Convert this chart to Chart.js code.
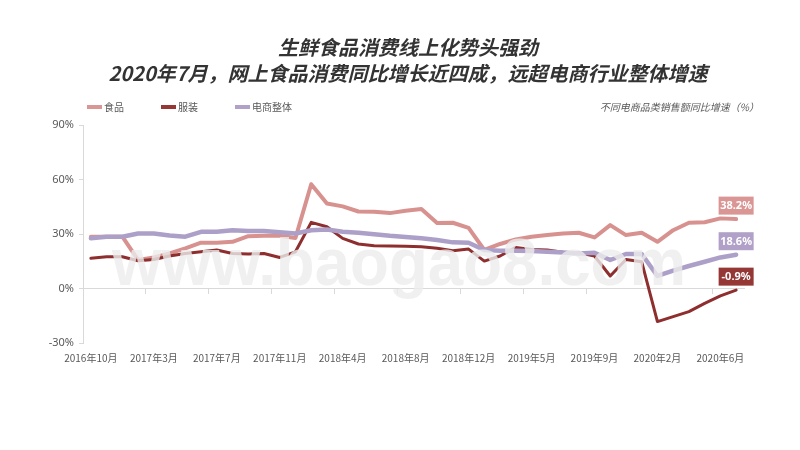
<!DOCTYPE html>
<html>
<head>
<meta charset="utf-8">
<script src="https://cdn.jsdelivr.net/npm/chart.js@4/dist/chart.umd.min.js"></script>
<style>
  html, body { margin: 0; padding: 0; background: #fff; }
  #wrap { position: relative; width: 800px; height: 450px; overflow: hidden; font-family: "Noto Sans CJK SC", "Noto Sans", sans-serif; }
  #c { position: absolute; left: 0; top: 0; }
  .title { position: absolute; top: 34px; left: 8px; width: 800px; text-align: center; font-size: 20px; font-weight: bold; font-style: italic; line-height: 26px; color: #333; white-space: nowrap; }
  .lg { position: absolute; top: 100px; font-size: 10px; line-height: 14px; color: #595959; white-space: nowrap; }
  .sw { position: absolute; top: 105px; width: 15px; height: 4px; }
  .cap { position: absolute; top: 100px; right: 41px; font-size: 10px; line-height: 14px; font-style: italic; color: #595959; white-space: nowrap; }
</style>
</head>
<body>
<div id="wrap">
  <canvas id="c" width="800" height="450"></canvas>
  <div class="title">生鲜食品消费线上化势头强劲<br>2020年7月，网上食品消费同比增长近四成，远超电商行业整体增速</div>
  <div id="legend"></div>
  <div class="cap">不同电商品类销售额同比增速（%）</div>
</div>
<script>
// ---- data ----
const categories = [
  '2016年10月','2016年11月','2016年12月',
  '2017年2月','2017年3月','2017年4月','2017年5月','2017年6月','2017年7月','2017年8月','2017年9月','2017年10月','2017年11月','2017年12月',
  '2018年2月','2018年3月','2018年4月','2018年5月','2018年6月','2018年7月','2018年8月','2018年9月','2018年10月','2018年11月','2018年12月',
  '2019年2月','2019年3月','2019年4月','2019年5月','2019年6月','2019年7月','2019年8月','2019年9月','2019年10月','2019年11月','2019年12月',
  '2020年2月','2020年3月','2020年4月','2020年5月','2020年6月','2020年7月'
];
const xTickLabels = ['2016年10月','2017年3月','2017年7月','2017年11月','2018年4月','2018年8月','2018年12月','2019年5月','2019年9月','2020年2月','2020年6月'];
const yTicks = [-30, 0, 30, 60, 90];
const seriesNames = ['食品', '服装', '电商整体'];
const food = [28.5, 28.5, 28.5, 15.7, 17.1, 19.3, 22.1, 25.2, 25.2, 25.7,
              28.8, 29.0, 29.0, 27.8, 57.4, 46.8, 45.2, 42.4, 42.2, 41.5,
              42.8, 43.7, 36.0, 36.2, 33.4, 21.2, 24.5, 27.0, 28.5, 29.4,
              30.3, 30.7, 28.1, 34.9, 29.4, 30.7, 25.7, 32.1, 36.2, 36.5,
              38.6, 38.2];
const clothing = [16.6, 17.5, 17.5, 15.3, 16.0, 17.9, 19.3, 20.2, 21.2, 19.3,
                  19.0, 19.3, 17.1, 20.2, 36.4, 34.0, 27.6, 24.5, 23.5, 23.4,
                  23.2, 23.0, 22.1, 20.8, 21.7, 15.1, 17.9, 22.6, 21.5, 21.2,
                  20.0, 19.7, 17.9, 6.9, 16.0, 14.7, -18.2, -15.5, -12.7, -8.2,
                  -4.1, -0.9];
const overall = [27.6, 28.5, 28.5, 30.3, 30.3, 29.2, 28.5, 31.2, 31.2, 32.1,
                 31.7, 31.6, 30.9, 30.3, 32.1, 32.5, 31.2, 30.7, 29.9, 29.0,
                 28.3, 27.6, 26.7, 25.4, 25.2, 21.2, 20.8, 20.8, 20.6, 20.2,
                 19.8, 19.3, 19.7, 15.7, 19.0, 19.0, 6.9, 9.8, 12.4, 14.7,
                 17.1, 18.6];

// ---- styles ----
const lineColors = ['#D7928F', '#8E2E2E', '#ADA0C8'];
const boxColors = ['#D99694', '#953735', '#B1A0C7'];
const lineWidths = [4, 3, 4.5];
const gridGray = '#D9D9D9';
const textGray = '#595959';

// legend (HTML)
const legendLeft = [87, 161, 235];
const lg = document.getElementById('legend');
seriesNames.forEach((n, i) => {
  const s = document.createElement('div');
  s.className = 'sw'; s.style.left = legendLeft[i] + 'px'; s.style.background = boxColors[i];
  lg.appendChild(s);
  const t = document.createElement('div');
  t.className = 'lg'; t.style.left = (legendLeft[i] + 17) + 'px'; t.textContent = n;
  lg.appendChild(t);
});

const endLabels = {
  id: 'endLabels',
  afterDatasetsDraw(chart) {
    const ctx = chart.ctx;
    chart.data.datasets.forEach((ds, di) => {
      const meta = chart.getDatasetMeta(di);
      const pt = meta.data[meta.data.length - 1];
      const val = ds.data[ds.data.length - 1];
      const txt = val.toFixed(1) + '%';
      const w = 35, h = 18;
      const cx = pt.x, cy = pt.y - 13.5;
      ctx.save();
      ctx.fillStyle = boxColors[di];
      ctx.fillRect(cx - w / 2, cy - h / 2, w, h);
      ctx.fillStyle = '#fff';
      ctx.font = 'bold 11px "Noto Sans", sans-serif';
      ctx.textAlign = 'center';
      ctx.textBaseline = 'middle';
      ctx.fillText(txt, cx, cy + 0.5);
      ctx.restore();
    });
  }
};

const watermark = {
  id: 'watermark',
  afterDraw(chart) {
    const ctx = chart.ctx;
    ctx.save();
    ctx.font = 'bold 67px "Liberation Sans", Arial, sans-serif';
    const txt = 'www.baogao8.com';
    const mw = ctx.measureText(txt).width;
    ctx.translate(112, 285);
    ctx.scale(574 / mw, 1);
    ctx.fillStyle = 'rgba(236,236,236,0.8)';
    ctx.textBaseline = 'alphabetic';
    ctx.fillText(txt, 0, 0);
    ctx.restore();
  }
};

const series = [food, clothing, overall];
new Chart(document.getElementById('c'), {
  type: 'line',
  data: {
    labels: categories,
    datasets: series.map((d, i) => ({
      label: seriesNames[i],
      data: d,
      borderColor: lineColors[i],
      backgroundColor: lineColors[i],
      borderWidth: lineWidths[i],
      pointRadius: 0,
      tension: 0,
      fill: false,
      borderJoinStyle: 'round',
      borderCapStyle: 'round',
      order: [2, 1, 0][i]
    }))
  },
  options: {
    responsive: false,
    devicePixelRatio: 1,
    animation: false,
    layout: { padding: { left: 43, right: 56, top: 125, bottom: 77 } },
    plugins: {
      legend: { display: false },
      title: { display: false },
      tooltip: { enabled: false }
    },
    scales: {
      x: {
        type: 'category',
        offset: true,
        border: { display: false },
        grid: { display: false, drawTicks: false },
        ticks: {
          autoSkip: false,
          maxRotation: 0,
          minRotation: 0,
          padding: 9,
          color: textGray,
          font: { size: 10, family: '"Noto Sans CJK SC", sans-serif' },
          callback: (v, i) => xTickLabels.includes(categories[i]) ? categories[i] : ''
        },
        afterFit: (s) => { s.height = 30; }
      },
      x2: {
        type: 'category',
        position: { y: 0 },
        offset: true,
        border: { display: true, color: gridGray, width: 1 },
        grid: {
          offset: true,
          drawOnChartArea: false,
          drawTicks: true,
          tickLength: 5,
          color: (ctx) => (ctx.index !== undefined && xTickLabels.includes(categories[ctx.index])) ? gridGray : 'rgba(0,0,0,0)'
        },
        ticks: { display: false, autoSkip: false }
      },
      y: {
        min: -30,
        max: 90,
        afterBuildTicks: (s) => { s.ticks = yTicks.map(v => ({ value: v })); },
        border: { display: true, color: gridGray, width: 1 },
        grid: { drawOnChartArea: false, drawTicks: true, tickLength: 4, color: gridGray },
        ticks: {
          padding: 5,
          color: textGray,
          font: { size: 11, family: '"Noto Sans", sans-serif' },
          callback: (v) => v + '%'
        },
        afterFit: (s) => { s.width = 40; }
      }
    }
  },
  plugins: [endLabels, watermark]
});
</script>
</body>
</html>
